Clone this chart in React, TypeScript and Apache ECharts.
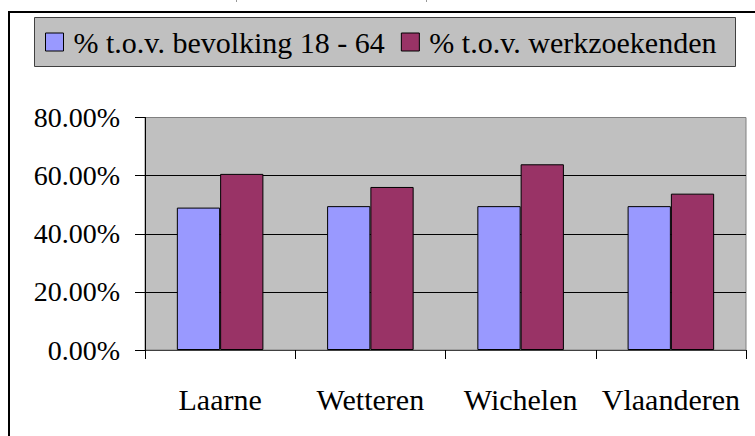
import React, { useEffect, useRef } from "react";
import * as echarts from "echarts";

const categories = ["Laarne", "Wetteren", "Wichelen", "Vlaanderen"];
const seriesNames = ["% t.o.v. bevolking 18 - 64", "% t.o.v. werkzoekenden"];
const bevolking = [49.0, 49.5, 49.5, 49.5];
const werkzoekenden = [60.6, 56.1, 63.9, 53.8];
const yMin = 0;
const yMax = 80;
const yInterval = 20;

const FONT = "Liberation Serif";

export default function App() {
  const ref = useRef<HTMLDivElement>(null);

  useEffect(() => {
    if (!ref.current) return;
    const chart = echarts.init(ref.current, undefined, { renderer: "svg" });
    chart.setOption({
      animation: false,
      backgroundColor: "#ffffff",
      textStyle: { fontFamily: FONT },
      graphic: [
        {
          type: "rect",
          z: -10,
          silent: true,
          shape: { x: 9, y: 12, width: 800, height: 500 },
          style: { fill: "#ffffff", stroke: "#000000", lineWidth: 2 },
        },
        {
          type: "rect",
          z: -5,
          silent: true,
          shape: { x: 34.5, y: 17.5, width: 701, height: 49 },
          style: { fill: "#c0c0c0", stroke: "#404040", lineWidth: 1 },
        },
        {
          type: "line",
          silent: true,
          shape: { x1: 236.5, y1: 0, x2: 236.5, y2: 2 },
          style: { stroke: "#999999", lineWidth: 1 },
        },
        {
          type: "line",
          silent: true,
          shape: { x1: 426.5, y1: 0, x2: 426.5, y2: 2 },
          style: { stroke: "#999999", lineWidth: 1 },
        },
      ],
      legend: {
        show: true,
        left: 45,
        top: 27,
        padding: 0,
        itemGap: 16,
        itemWidth: 18,
        itemHeight: 18,
        icon: "rect",
        z: 10,
        itemStyle: { borderColor: "#000000", borderWidth: 1 },
        textStyle: {
          fontFamily: FONT,
          fontSize: 30,
          color: "#000000",
          padding: [0, 0, 0, 5],
        },
        data: seriesNames,
      },
      grid: {
        left: 145,
        right: 9,
        top: 117.5,
        bottom: 86,
        show: true,
        backgroundColor: "#c0c0c0",
        borderColor: "#808080",
        borderWidth: 1,
        containLabel: false,
      },
      xAxis: {
        type: "category",
        data: categories,
        axisLine: { show: true, lineStyle: { color: "#404040", width: 1 } },
        axisTick: { show: true, length: 9, lineStyle: { color: "#000000" } },
        axisLabel: {
          interval: 0,
          fontFamily: FONT,
          fontSize: 30,
          color: "#000000",
          margin: 34,
        },
        splitLine: { show: false },
      },
      yAxis: {
        type: "value",
        min: yMin,
        max: yMax,
        interval: yInterval,
        axisLine: { show: true, lineStyle: { color: "#000000", width: 1 } },
        axisTick: { show: true, length: 10, lineStyle: { color: "#000000" } },
        axisLabel: {
          fontFamily: FONT,
          fontSize: 28,
          color: "#000000",
          margin: 25,
          formatter: (v: number) => `${v.toFixed(2)}%`,
        },
        splitLine: {
          show: true,
          lineStyle: {
            color: ["#000000", "#000000", "#000000", "#000000", "#808080"],
            width: 1,
          },
        },
      },
      series: [
        {
          name: seriesNames[0],
          type: "bar",
          data: bevolking,
          barGap: "0%",
          barCategoryGap: "42.4%",
          itemStyle: { color: "#9999ff", borderColor: "#000000", borderWidth: 1 },
        },
        {
          name: seriesNames[1],
          type: "bar",
          data: werkzoekenden,
          barGap: "0%",
          barCategoryGap: "42.4%",
          itemStyle: { color: "#993366", borderColor: "#000000", borderWidth: 1 },
        },
      ],
    });
    return () => chart.dispose();
  }, []);

  return (
    <div
      ref={ref}
      style={{ position: "fixed", left: 0, top: 0, width: 755, height: 436 }}
    />
  );
}
